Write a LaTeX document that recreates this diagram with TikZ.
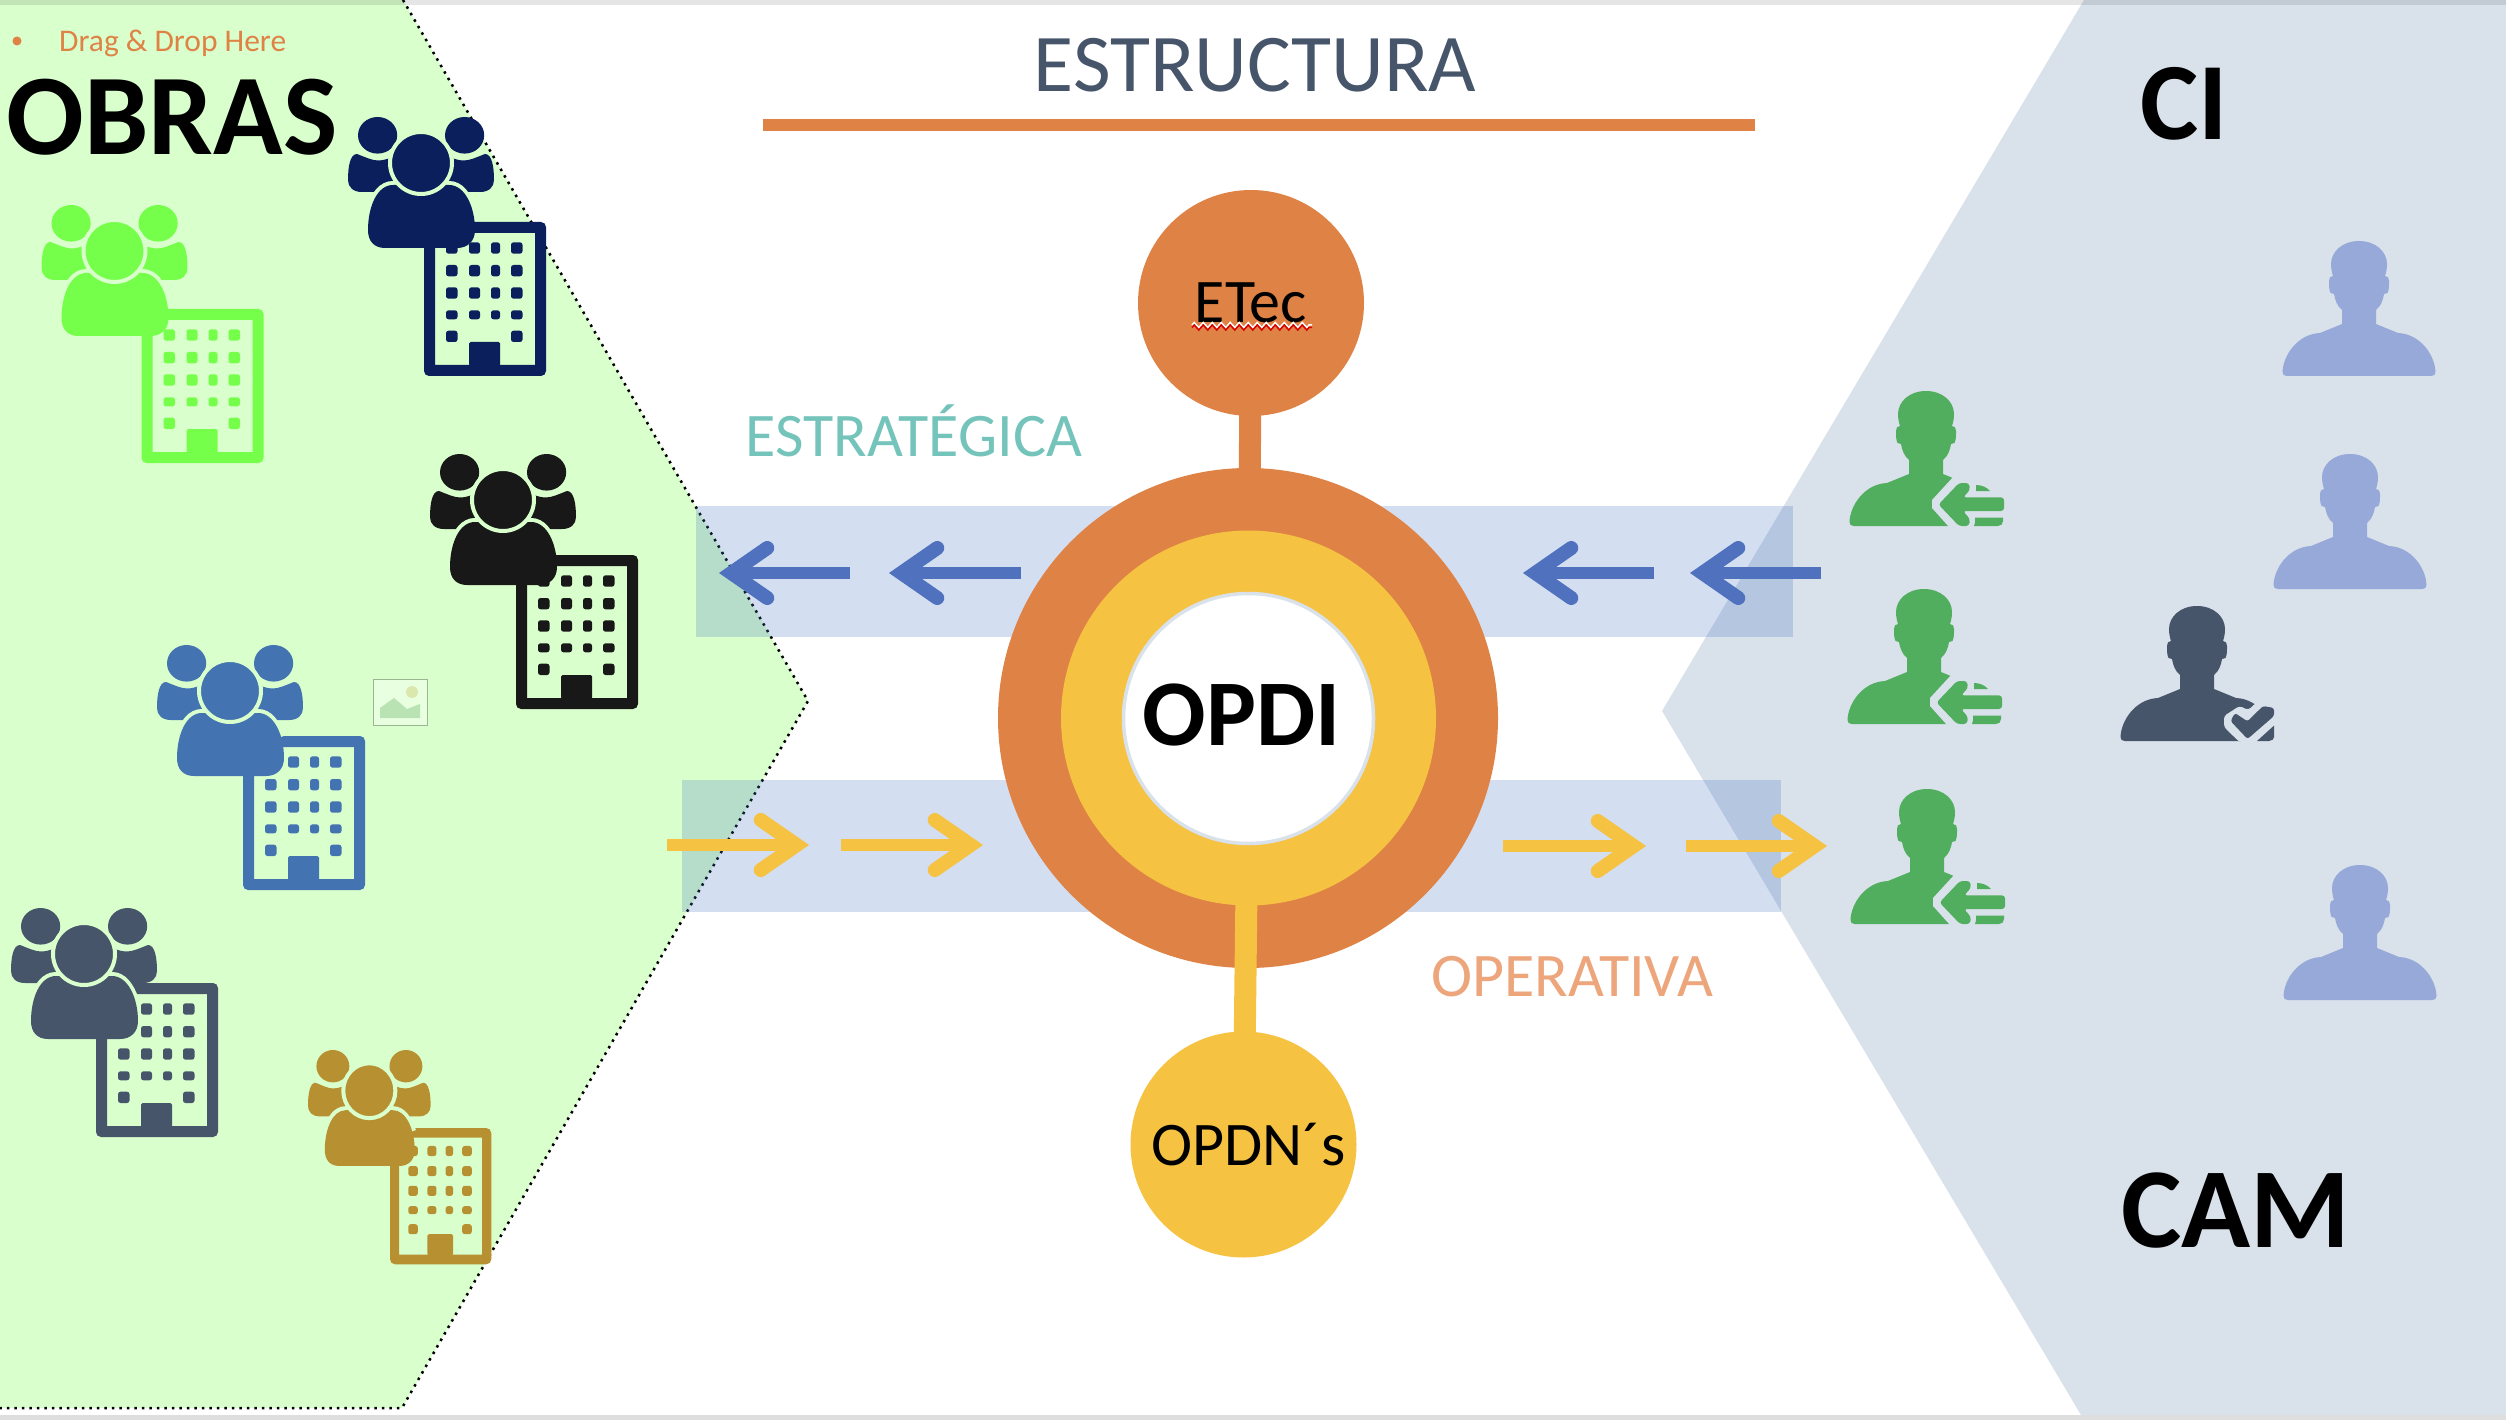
\documentclass[tikz,border=0pt]{standalone}
\usepackage{fontspec}
\setmainfont{Carlito}
\usetikzlibrary{arrows.meta,decorations.pathmorphing}

\definecolor{obragreen}{HTML}{D9FFCC}
\definecolor{cigrey}{HTML}{D9E1EB}
\definecolor{bandblue}{HTML}{4472C4}
\definecolor{ringorange}{HTML}{DF8245}
\definecolor{ringyellow}{HTML}{F5C242}
\definecolor{arrowblue}{HTML}{4F71BE}
\definecolor{titleslate}{HTML}{47556A}
\definecolor{obrasteal}{HTML}{74C4BB}
\definecolor{opersalmon}{HTML}{EDA67C}
\definecolor{obranavy}{HTML}{0A1F5C}
\definecolor{obralime}{HTML}{76FF4A}
\definecolor{obrablack}{HTML}{181818}
\definecolor{obrablue}{HTML}{4373B1}
\definecolor{obragold}{HTML}{B79032}
\definecolor{bustblue}{HTML}{96A9D8}
\definecolor{bustgreen}{HTML}{52AE5F}

\begin{document}
\begin{tikzpicture}[
x=1pt,y=-1pt,
band/.style={fill=bandblue, fill opacity=.235},
disc/.style={circle, inner sep=0pt, text=black},
ring/.style={disc, fill=ringorange, minimum size=500pt},
midring/.style={disc, fill=ringyellow, minimum size=375pt},
core/.style={disc, fill=white, draw=cigrey, line width=3.5pt, minimum size=250pt, font=\fontsize{94}{94}\bfseries\selectfont},
small/.style={disc, minimum size=226pt, font=\fontsize{62}{62}\selectfont},
bar/.style={line width=22pt, shorten <=-5pt, shorten >=-5pt},
flow/.style={line width=12pt, -{Straight Barb[length=36pt,width=50pt,line width=14pt,line cap=round,line join=miter]}},
headline/.style={anchor=base, inner sep=0pt, text=black, font=\fontsize{115}{115}\bfseries\selectfont},
caption/.style={anchor=base, inner sep=0pt, font=\fontsize{62}{62}\selectfont},
pics/building/.style={code={
  \fill[#1, even odd rule, rounded corners=5pt] (0,0) rectangle (122,154) [sharp corners] (11,11) rectangle (111,143);
  \foreach \wy/\wh in {20.3/11.4,43/11.3,65.3/11.4,88.3/9}
    \foreach \wx/\ww in {22/11.5,45/11,67/9,87/11.5}
      \fill[#1, rounded corners=2.5pt] (\wx,\wy) rectangle ++(\ww,\wh);
  \fill[#1, rounded corners=2.5pt] (22,108.7) rectangle ++(11.5,11.3);
  \fill[#1, rounded corners=2.5pt] (87,108.7) rectangle ++(11.5,11.3);
  \fill[#1, rounded corners=1.5pt] (45,144) -- (45,120) -- (76,120) -- (76,144) -- cycle;
}},
pics/group/.style={code={
  \fill[#1] (29.6,18.3) ellipse [x radius=19.6,y radius=18.3];
  \fill[#1] (116.6,18.3) ellipse [x radius=19.6,y radius=18.3];
  \fill[#1] (9,37) .. controls (17,40) and (24,43.5) .. (30,43.5) .. controls (34,43.5) and (38,42.5) .. (42,41) -- (46,70) -- (27,75) -- (14,75) .. controls (5,75) and (0,70) .. (0,63) .. controls (0,50) and (2,37) .. (9,37) -- cycle;
  \fill[#1] (137,37) .. controls (129,40) and (122,43.5) .. (116,43.5) .. controls (112,43.5) and (108,42.5) .. (104,41) -- (100,70) -- (119,75) -- (132,75) .. controls (141,75) and (146,70) .. (146,63) .. controls (146,50) and (144,37) .. (137,37) -- cycle;
  \draw[obragreen, line width=8pt] (22,92) .. controls (27,78) and (34,68) .. (45,68) -- (101,68) .. controls (112,68) and (119,78) .. (124,92);
  \fill[#1] (45,68) -- (101,68) .. controls (117,68) and (127,90) .. (127,113) .. controls (127,124) and (120,131) .. (109,131) -- (37,131) .. controls (26,131) and (20,124) .. (20,113) .. controls (20,90) and (29,68) .. (45,68) -- cycle;
  \filldraw[fill=#1, draw=obragreen, line width=4pt] (73,46) ellipse [x radius=31,y radius=31];
}},
pics/bust/.style={code={
  \fill[#1] (0,-135) .. controls (17,-135) and (28,-124) .. (28,-112) .. controls (28,-107) and (27,-103) .. (26,-100) .. controls (29,-100) and (30,-98) .. (30,-95) .. controls (30,-90) and (30,-86) .. (28.5,-83) -- (25,-82) .. controls (24,-76) and (22,-70) .. (17,-66) -- (17,-52) -- (39,-43) .. controls (62,-42) and (76,-20) .. (76.5,-4) .. controls (76.5,-1) and (75,0) .. (72,0)
  -- (-72,0) .. controls (-75,0) and (-76.5,-1) .. (-76.5,-4) .. controls (-76,-20) and (-62,-42) .. (-39,-43) -- (-17,-52) -- (-17,-66) .. controls (-22,-70) and (-24,-76) .. (-25,-82) -- (-28.5,-83) .. controls (-30,-86) and (-30,-90) .. (-30,-95) .. controls (-30,-98) and (-29,-100) .. (-26,-100) .. controls (-27,-103) and (-28,-107) .. (-28,-112) .. controls (-28,-124) and (-17,-135) .. (0,-135) -- cycle;
}},
pics/backbust/.style={code={
  \pic {bust=#1};
  \fill[cigrey] (28,-50) -- (6,-26) -- (6,-18) -- (23,1) -- (85,1) -- (85,-50) -- cycle;
  \fill[#1] (50,-41) .. controls (56,-41) and (61,-38.5) .. (64,-35) -- (50,-35) -- cycle;
  \fill[#1] (49,-8.5) -- (77,-8.5) -- (77,-5) .. controls (77,-2) and (75,0) .. (72,0) -- (48,0) .. controls (49,-2) and (49.5,-5) .. (49,-8.5) -- cycle;
  \fill[#1, rounded corners=3pt] (12.5,-21.5) -- (33,-43) -- (43,-43) -- (44,-36) -- (37,-28.6) -- (78,-28.6) -- (78,-15) -- (37,-15) -- (44,-7) -- (43,0) -- (33,0) -- cycle;
}},
pics/checkbust/.style={code={
  \pic {bust=#1};
  \fill[cigrey, rounded corners=3pt] (60,-39) -- (51.3,-31) -- (42.4,-35) -- (27,-25) -- (27,-14) -- (42.4,1) -- (85,1) -- (85,-39) -- cycle;
  \fill[#1, rounded corners=2.5pt] (38,-28) -- (50.5,-19.6) -- (66,-35) -- (77,-33) -- (77,-25) -- (50.5,-2) -- (33.5,-20) -- cycle;
  \fill[#1] (77,-15.4) -- (77,-4) .. controls (77,-2) and (75,0) .. (72,0) -- (60,0) -- cycle;
}},
]

\useasboundingbox (0,0) rectangle (2506,1420);

\fill[obragreen] (0,0) -- (403,0) -- (808,701) -- (402,1408) -- (0,1408) -- cycle;
\draw[line width=2.5pt, dash pattern=on 2.5pt off 5pt] (403,0) -- (808,701) -- (402,1408) -- (0,1408);
\fill[cigrey] (2084,0) -- (1662,711) -- (2081,1415) -- (2506,1415) -- (2506,0) -- cycle;
\fill[black, opacity=.1] (0,0) rectangle (2506,5);
\fill[black!13] (0,1415) rectangle (2506,1420);

\fill[band] (696,506) rectangle (1793,637);
\fill[band] (682,780) rectangle (1781,912);

\node[ring] (outer) at (1248,718) {};
\node[midring] (middle) at (1248.5,718) {};
\node[core, text depth=8pt] (opdi) at (1248.5,718.5) {OPDI\kern14pt};
\node[small, fill=ringorange] (etec) at (1251,303) {ETec};
\node[small, fill=ringyellow] (opdn) at (1243.5,1144.5) {\kern10pt OPDN´s};

\path
(etec) edge[bar, ringorange] (outer)
(middle) edge[bar, ringyellow] (opdn)
;

\draw[white, line width=1.5pt, decorate, decoration={zigzag,segment length=9pt,amplitude=2.5pt}] (1192,325) -- (1312,325);
\draw[red!85!black, line width=1.5pt, decorate, decoration={zigzag,segment length=9pt,amplitude=2.5pt}] (1192,327.5) -- (1312,327.5);

\node[anchor=base, inner sep=0pt, text=titleslate, font=\fontsize{82}{82}\selectfont] (title) at (1255,92) {ESTRUCTURA};
\fill[ringorange] (763,119) rectangle (1755,131);
\node[circle, fill=ringorange, inner sep=0pt, minimum size=9pt] (dot) at (17,41) {};
\node[anchor=base west, inner sep=0pt, text=ringorange, font=\fontsize{31.5}{31.5}\selectfont] (drag) at (59,52) {Drag \& Drop Here};
\node[headline] (obras) at (172,155) {OBRAS};
\node[headline, font=\fontsize{110}{110}\bfseries\selectfont] (ci) at (2184,140) {CI};
\node[headline, font=\fontsize{114}{114}\bfseries\selectfont] (cam) at (2236,1247) {CAM};
\node[caption, text=obrasteal] (estrategica) at (914,456) {ESTRATÉGICA};
\node[caption, text=opersalmon] (operativa) at (1572,996) {OPERATIVA};

\pic (bnavy) at (424,222) {building=obranavy};
\pic (gnavy) at (348,117) {group=obranavy};
\pic (blime) at (141.5,309) {building=obralime};
\pic (glime) at (41.5,205) {group=obralime};
\pic (bblack) at (516,555) {building=obrablack};
\pic (gblack) at (430,454) {group=obrablack};
\pic (bblue) at (243,736) {building=obrablue};
\pic (gblue) at (157,645) {group=obrablue};
\pic (bslate) at (96,983) {building=titleslate};
\pic (gslate) at (11,908) {group=titleslate};
\pic[xscale=.83,yscale=.885] (bgold) at (390,1128) {building=obragold};
\pic[xscale=.84,yscale=.885] (ggold) at (308,1050) {group=obragold};

\node[draw=black!5!obragreen!75!black, fill=white!40!obragreen, line width=1pt, inner sep=0pt, minimum width=54pt, minimum height=46pt] (photo) at (400,702) {};
\fill[green!45!black, opacity=.2] (380,708) -- (394,698) -- (407,709) -- (420,704) -- (420,718) -- (380,718) -- cycle;
\fill[yellow!70!black, opacity=.3] (412,692) circle (6);

\pic (cia) at (2359,376) {bust=bustblue};
\pic (cib) at (2350,589) {bust=bustblue};
\pic (cic) at (2360,1000) {bust=bustblue};
\pic (cid) at (2197,741) {checkbust=titleslate};
\pic (came) at (1926,526) {backbust=bustgreen};
\pic (camf) at (1924,724) {backbust=bustgreen};
\pic (camg) at (1927,924) {backbust=bustgreen};

\coordinate (e1) at (850,573);
\coordinate (e1tip) at (719,573);
\coordinate (e2) at (1021,573);
\coordinate (e2tip) at (889,573);
\coordinate (e3) at (1654,573);
\coordinate (e3tip) at (1523,573);
\coordinate (e4) at (1821,573);
\coordinate (e4tip) at (1690,573);
\coordinate (o1) at (667,845);
\coordinate (o1tip) at (809,845);
\coordinate (o2) at (841,845);
\coordinate (o2tip) at (983,845);
\coordinate (o3) at (1503,846);
\coordinate (o3tip) at (1646,846);
\coordinate (o4) at (1686,846);
\coordinate (o4tip) at (1827,846);

\path
(e1) edge[flow, arrowblue] (e1tip)
(e2) edge[flow, arrowblue] (e2tip)
(e3) edge[flow, arrowblue] (e3tip)
(e4) edge[flow, arrowblue] (e4tip)
(o1) edge[flow, ringyellow] (o1tip)
(o2) edge[flow, ringyellow] (o2tip)
(o3) edge[flow, ringyellow] (o3tip)
(o4) edge[flow, ringyellow] (o4tip)
;
\end{tikzpicture}
\end{document}
